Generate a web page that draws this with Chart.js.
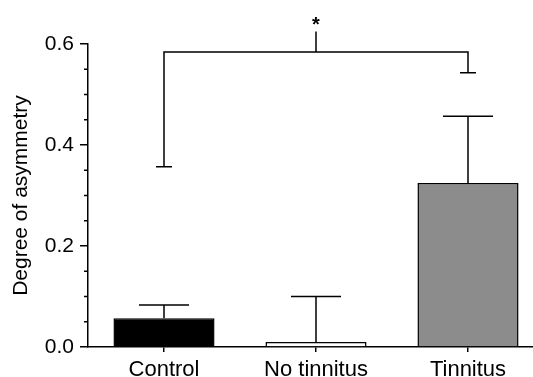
<!DOCTYPE html>
<html>
<head>
<meta charset="utf-8">
<script src="https://cdn.jsdelivr.net/npm/chart.js@4/dist/chart.umd.min.js"></script>
<style>
  html, body { margin: 0; padding: 0; background: #fff; overflow: hidden; }
  canvas { display: block; }
</style>
</head>
<body>
<canvas id="chart" width="560" height="390" style="width:560px;height:390px"></canvas>
<script>
// ===== DATA =====
const categories = ["Control", "No tinnitus", "Tinnitus"];
const means = [0.057, 0.010, 0.325];
const sem = [0.026, 0.090, 0.132];

const yTicks = [0, 0.2, 0.4, 0.6];
const yMinorTicks = [0.05, 0.1, 0.15, 0.25, 0.3, 0.35, 0.45, 0.5, 0.55];

// significance bracket (Control vs Tinnitus)
const sigPair = [0, 2];
const sigLegEnds = [0.357, 0.543];
const sigTop = 0.584;
const sigMarkTop = 0.625;
const sigLabel = "*";

const FONT = "'Liberation Sans', Arial, sans-serif";

// ===== PLUGIN: error bars, minor ticks, bracket =====
const extras = {
  id: "extras",
  afterDatasetsDraw(chart) {
    const ctx = chart.ctx;
    const x = chart.scales.x;
    const y = chart.scales.y;
    ctx.save();
    ctx.strokeStyle = "#000";
    ctx.lineWidth = 1.5;

    // error bars (upper only)
    means.forEach((m, i) => {
      const cx = x.getPixelForValue(i);
      const y0 = y.getPixelForValue(m);
      const y1 = y.getPixelForValue(m + sem[i]);
      ctx.beginPath();
      ctx.moveTo(cx, y0);
      ctx.lineTo(cx, y1);
      ctx.moveTo(cx - 25, y1);
      ctx.lineTo(cx + 25, y1);
      ctx.stroke();
    });

    // minor y ticks
    ctx.beginPath();
    yMinorTicks.forEach(v => {
      const py = y.getPixelForValue(v);
      ctx.moveTo(x.left - 4, py);
      ctx.lineTo(x.left, py);
    });
    ctx.stroke();

    // bracket
    const xl = x.getPixelForValue(sigPair[0]);
    const xr = x.getPixelForValue(sigPair[1]);
    const xm = (xl + xr) / 2;
    const yt = y.getPixelForValue(sigTop);
    const yl = y.getPixelForValue(sigLegEnds[0]);
    const yr = y.getPixelForValue(sigLegEnds[1]);
    const ym = y.getPixelForValue(sigMarkTop);
    ctx.beginPath();
    ctx.moveTo(xl, yl);
    ctx.lineTo(xl, yt);
    ctx.lineTo(xr, yt);
    ctx.lineTo(xr, yr);
    ctx.moveTo(xl - 8, yl);
    ctx.lineTo(xl + 8, yl);
    ctx.moveTo(xr - 8, yr);
    ctx.lineTo(xr + 8, yr);
    ctx.moveTo(xm, yt);
    ctx.lineTo(xm, ym);
    ctx.stroke();

    ctx.fillStyle = "#000";
    ctx.font = "bold 20px " + FONT;
    ctx.textAlign = "center";
    ctx.textBaseline = "alphabetic";
    ctx.fillText(sigLabel, xm, ym);
    ctx.restore();
  }
};

// ===== CHART =====
new Chart(document.getElementById("chart"), {
  type: "bar",
  data: {
    labels: categories,
    datasets: [{
      data: means,
      backgroundColor: ["#000000", "#ffffff", "#8c8c8c"],
      borderColor: "#000",
      borderWidth: 1.5,
      borderSkipped: "bottom",
      barPercentage: 0.665,
      categoryPercentage: 1
    }]
  },
  options: {
    responsive: false,
    animation: false,
    layout: { padding: { top: 44, right: 16, left: 0, bottom: 0 } },
    plugins: { legend: { display: false }, tooltip: { enabled: false } },
    scales: {
      x: {
        offset: true,
        grid: { display: true, drawOnChartArea: false, offset: false, tickLength: 5, color: "#000", lineWidth: 1.5 },
        border: { color: "#000", width: 1.5 },
        ticks: { color: "#000", font: { family: FONT, size: 22 }, padding: 5, maxRotation: 0 },
        afterFit: s => { s.height = 43; }
      },
      y: {
        min: 0,
        max: 0.6,
        afterBuildTicks: s => { s.ticks = yTicks.map(v => ({ value: v })); },
        grid: { display: true, drawOnChartArea: false, tickLength: 8, color: "#000", lineWidth: 1.5 },
        border: { color: "#000", width: 1.5 },
        ticks: { color: "#000", font: { family: FONT, size: 21 }, padding: 6, callback: v => v.toFixed(1) },
        title: { display: true, text: "Degree of asymmetry", color: "#000", font: { family: FONT, size: 21 }, padding: { top: 9, bottom: 0 } },
        afterFit: s => { s.width = 88; }
      }
    }
  },
  plugins: [extras]
});
</script>
</body>
</html>
